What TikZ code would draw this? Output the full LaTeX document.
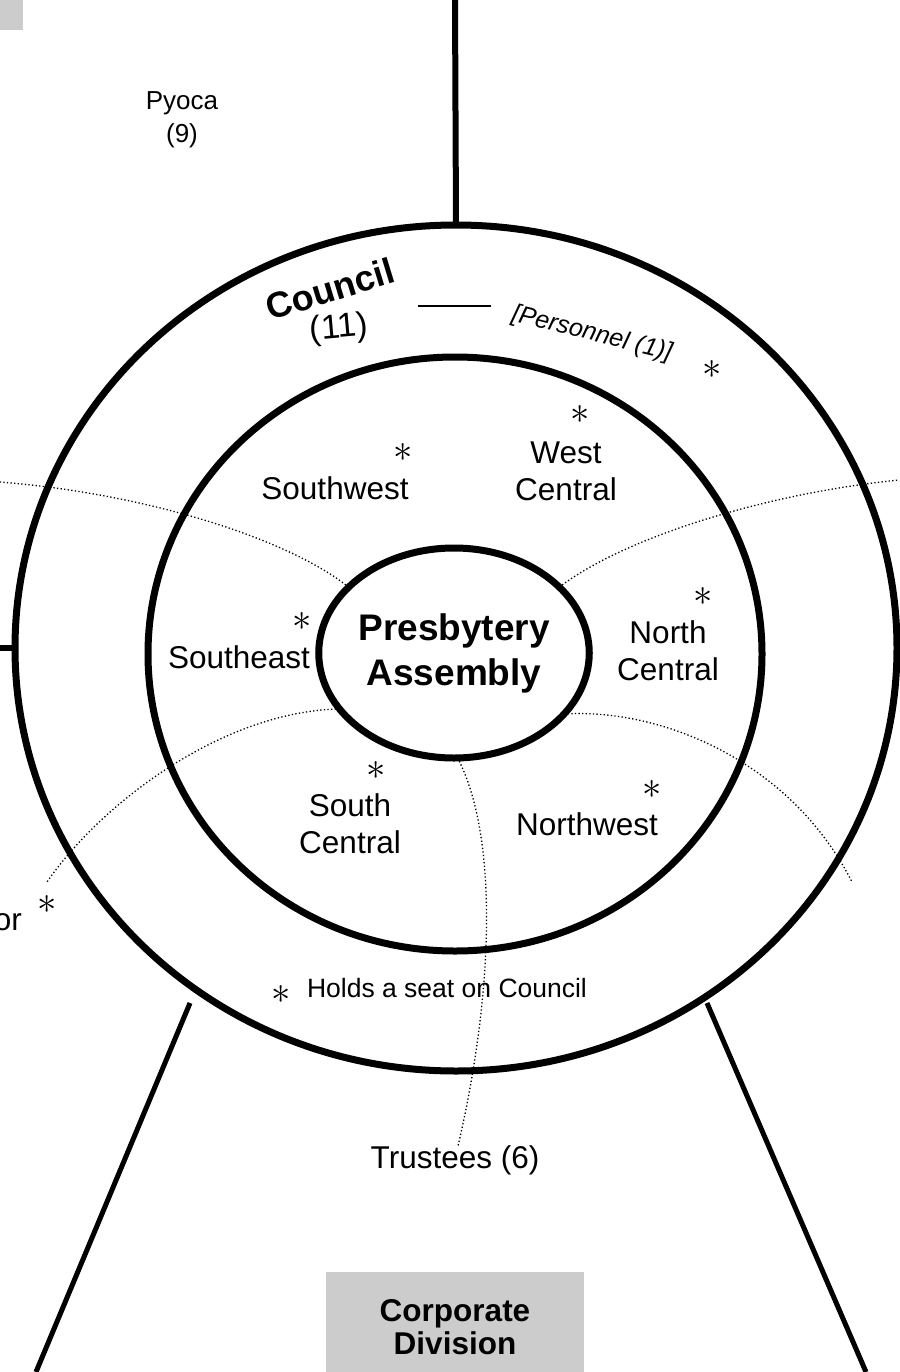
\documentclass[tikz,border=0pt]{standalone}
\usepackage{graphicx}
\usepackage{fontspec}
\setmainfont{Liberation Sans}
\usetikzlibrary{shapes.geometric}
\definecolor{boxgray}{HTML}{CCCCCC}
\newcommand{\bigstar}{\scalebox{1.55}{$\ast$}}
\begin{document}
\begin{tikzpicture}[x=1pt,y=-1pt,
  ring/.style={ellipse, draw, line width=7pt, inner sep=0pt, outer sep=0pt},
  bar/.style={line width=6pt},
  slimbar/.style={line width=5pt},
  dotline/.style={line width=1.3pt, dash pattern=on 1.3pt off 2.3pt},
  lbl/.style={font=\fontsize{31.5}{37}\selectfont, align=center, inner sep=0pt},
  bold/.style={font=\fontsize{37}{45}\selectfont\bfseries, align=center, inner sep=0pt},
  note/.style={font=\fontsize{26.5}{31}\selectfont, inner sep=0pt},
  star/.style={font=\fontsize{24.88}{24.88}\selectfont, inner sep=0pt},
  graybox/.style={fill=boxgray, draw=none}]
\useasboundingbox (0,0) rectangle (899,1372);
% gray boxes
\fill[graybox] (0,0) rectangle (23,30);
\node[graybox, minimum width=258pt, minimum height=110pt, inner sep=0pt,
      font=\fontsize{31.5}{35}\selectfont\bfseries, align=center] (corp) at (455,1327) {Corporate\\[-2pt]Division};
% rings
\node[ring, minimum width=882pt, minimum height=846pt] (council) at (456,648) {};
\node[ring, minimum width=614pt, minimum height=594pt] (regions) at (455,654) {};
\node[ring, minimum width=234pt, minimum height=210pt, bold] (pa) at (454,653) {Presbytery\\Assembly};
% solid connectors
\coordinate (topend) at (455,0);
\draw[bar] (topend) -- (council.north);
\coordinate (leftend) at (0,648);
\draw[bar] (leftend) -- (council.west);
\coordinate (bl1) at (190,1003);
\coordinate (bl2) at (36,1372);
\coordinate (br1) at (707,1003);
\coordinate (br2) at (866,1372);
\draw[slimbar] (bl1) -- (bl2);
\draw[slimbar] (br1) -- (br2);
% dotted curves
\coordinate (ul) at (0,482);
\coordinate (ur) at (899,480);
\coordinate (ll) at (47,882);
\coordinate (lr) at (852,882);
\coordinate (tr) at (458,1146);
\draw[dotline] (pa.148) .. controls (290,540) and (150,494) .. (ul);
\draw[dotline] (pa.32) .. controls (620,540) and (760,494) .. (ur);
\draw[dotline] (pa.206) .. controls (220,712) and (100,805) .. (ll);
\draw[dotline] (pa.331) .. controls (660,708) and (790,760) .. (lr);
\draw[dotline] (pa.272) .. controls (500,840) and (492,1000) .. (tr);
% labels
\node[lbl, font=\fontsize{26}{33}\selectfont] (pyoca) at (182,120) {Pyoca\\(9)};
\node[font=\fontsize{36}{36}\selectfont\bfseries, rotate=17, inner sep=0pt] (counciltxt) at (330,289) {Council};
\node[font=\fontsize{34}{34}\selectfont, rotate=5, inner sep=0pt] (elevn) at (339,329) {(11)};
\coordinate (pl1) at (418,306);
\coordinate (pl2) at (491,306);
\draw[line width=1.5pt] (pl1) -- (pl2);
\node[font=\fontsize{25}{25}\selectfont\itshape, rotate=-14, inner sep=0pt] (pers) at (592,334) {[Personnel (1)]};
\node[star] (s0) at (712,370) {\bigstar};
\node[lbl] (sw) at (335,488) {Southwest};
\node[star] (s1) at (403,453) {\bigstar};
\node[lbl] (wc) at (566,471) {West\\Central};
\node[star] (s2) at (580,415) {\bigstar};
\node[lbl] (se) at (239,657) {Southeast};
\node[star] (s3) at (302,622) {\bigstar};
\node[lbl] (nc) at (668,651) {North\\Central};
\node[star] (s4) at (703,597) {\bigstar};
\node[lbl] (sc) at (350,824) {South\\Central};
\node[star] (s5) at (376,771) {\bigstar};
\node[lbl] (nw) at (587,824) {Northwest};
\node[star] (s6) at (652,790) {\bigstar};
\node[lbl, anchor=east] (orr) at (22,922) {or};
\node[star] (s7) at (47,905) {\bigstar};
\node[note] (holds) at (447,988) {Holds a seat on Council};
\node[star] (s8) at (281,995) {\bigstar};
\node[lbl] (trust) at (455,1160) {Trustees (6)};
\end{tikzpicture}
\end{document}
